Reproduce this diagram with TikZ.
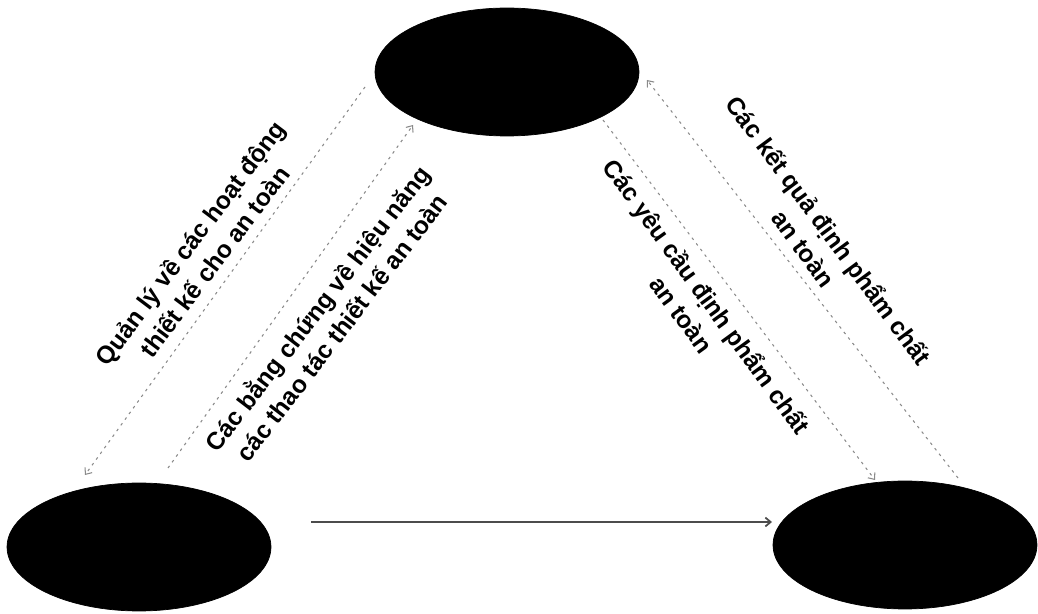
\documentclass[tikz,border=0pt]{standalone}
\usepackage{fontspec}
\setmainfont{Liberation Sans}
\usetikzlibrary{shapes.geometric, arrows.meta, calc}
\definecolor{tinta}{HTML}{000000}
\definecolor{grisaux}{HTML}{8A8A8A}
\tikzset{
  % Los tres bloques: elipses negras rellenas
  bloque/.style = {ellipse, fill=tinta, draw=tinta, inner sep=0pt,
                   minimum width=5.28cm, minimum height=2.56cm},
  % Flujos diagonales entre bloques (punteados, grises)
  flujo/.style = {line width=0.6pt, color=grisaux,
                  dash pattern=on 1.5pt off 2.5pt,
                  -{Straight Barb[length=3pt, width=5pt]}},
  % Flujo horizontal de abajo (más marcado)
  flujo fuerte/.style = {line width=1pt, color=tinta!70,
                  -{Straight Barb[length=3pt, width=5pt]}},
  % Rótulos girados junto a los flujos
  rotulo/.style = {align=center, inner sep=0pt, text=tinta,
                   font=\bfseries\fontsize{14}{17.5}\selectfont},
}

\begin{document}
\begin{tikzpicture}[x=0.02cm, y=-0.02cm]
  \useasboundingbox (0,0) rectangle (1038,614);

  % ---- bloques ----
  \node[bloque] (A) at (507,72)  {};
  \node[bloque] (B) at (139,547) {};
  \node[bloque] (C) at (905,545) {};

  % ---- flujos ----
  \draw[flujo] ($(A)+(-142,15)$) -- ($(B)+(-54,-72)$);
  \draw[flujo] ($(B)+(29,-79)$)  -- ($(A)+(-94,53)$);
  \draw[flujo] ($(A)+(96,48)$)   -- ($(C)+(-30,-65)$);
  \draw[flujo] ($(C)+(53,-67)$)  -- ($(A)+(140,8)$);
  \draw[flujo fuerte] ($(B)+(172,-25)$) -- ($(C)+(-133,-23)$);

  % ---- rótulos ----
  \node[rotulo, rotate=53]    (quanly) at (202,252)
    {Quản lý về các hoạt động\\thiết kế cho an toàn};
  \node[rotulo, rotate=52.5]  (bangchung) at (328,317)
    {Các bằng chứng về hiệu năng\\các thao tác thiết kế an toàn};
  \node[rotulo, rotate=-53.5] (ketqua) at (817,239)
    {Các kết quả định phẩm chất\\an toàn};
  \node[rotulo, rotate=-54]   (yeucau) at (695,305)
    {Các yêu cầu định phẩm chất\\an toàn};

\end{tikzpicture}
\end{document}
